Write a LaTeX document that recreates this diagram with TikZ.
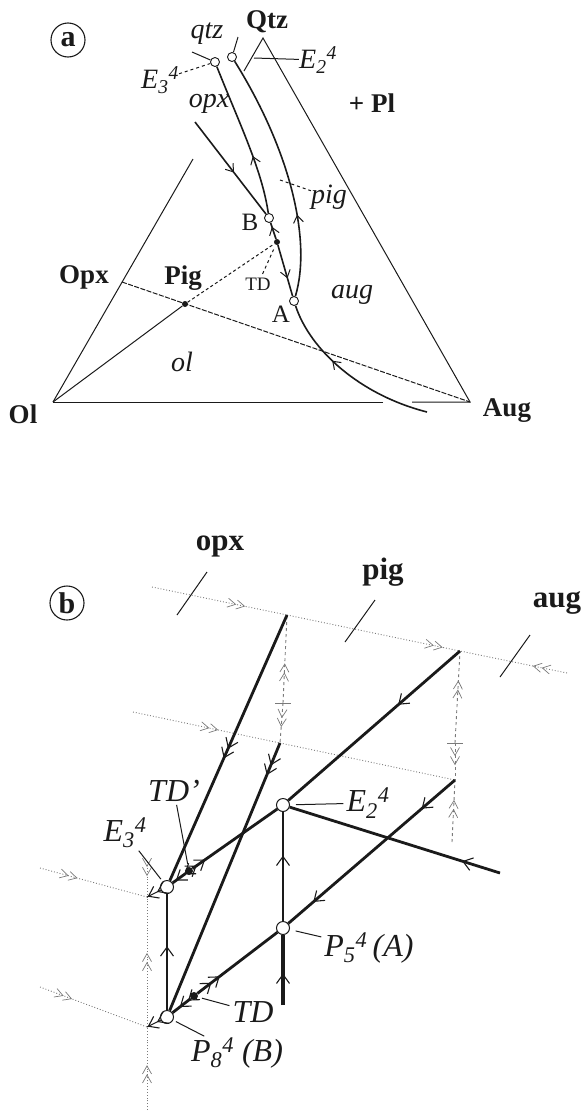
\documentclass[tikz,border=0pt]{standalone}
\usepackage{amsmath}
\usepackage{fontspec}
\setmainfont{Liberation Serif}
\usetikzlibrary{arrows.meta, decorations.markings}
\definecolor{tinta}{HTML}{1A1A1A}
\definecolor{guiaGris}{HTML}{7A7A7A}

\begin{document}
\begin{tikzpicture}[x=1pt, y=1pt, tinta,
    fino/.style={line width=1pt},
    curva/.style={line width=1.6pt},
    medio/.style={line width=1.8pt},
    grueso/.style={line width=2.8pt},
    muygrueso/.style={line width=4pt},
    guia/.style={guiaGris, line width=0.9pt, dotted},
    punto/.style={circle, draw, fill=white, inner sep=0pt, minimum size=9pt, line width=0.9pt},
    puntob/.style={circle, draw, fill=white, inner sep=0pt, minimum size=13pt, line width=1pt},
    lleno/.style={circle, fill, inner sep=0pt, minimum size=6pt},
    llenob/.style={circle, fill, inner sep=0pt, minimum size=8pt},
    fl/.style={postaction={decorate, decoration={markings, mark=at position #1 with
      {\arrow{Straight Barb[length=7pt, width=10pt, line width=1pt]}}}}},
    flb/.style={postaction={decorate, decoration={markings, mark=at position #1 with
      {\arrow{Straight Barb[length=9pt, width=13pt, line width=1.1pt]}}}}},
    fld/.style={postaction={decorate, decoration={markings, mark=at position #1 with
      {\arrow{Straight Barb[length=9pt, width=13pt, line width=1.1pt] Straight Barb[length=9pt, width=13pt, line width=1.1pt]}}}}},
    fg/.style={postaction={decorate, decoration={markings, mark=at position #1 with
      {\arrow{Straight Barb[length=8pt, width=9pt, line width=0.7pt] Straight Barb[length=8pt, width=9pt, line width=0.7pt]}}}}},
    negra/.style={font=\bfseries\fontsize{27}{29}\selectfont, inner sep=0pt},
    curs/.style={font=\itshape\fontsize{28}{30}\selectfont, inner sep=0pt},
    recto/.style={font=\fontsize{25}{27}\selectfont, inner sep=0pt},
    negrab/.style={font=\bfseries\fontsize{31}{33}\selectfont, inner sep=0pt},
    cursb/.style={font=\itshape\fontsize{32}{34}\selectfont, inner sep=0pt},
    circulo/.style={circle, draw, line width=1.1pt, inner sep=0pt, minimum size=34pt,
      font=\bfseries\fontsize{30}{32}\selectfont}]
    \useasboundingbox (0,0) rectangle (582,-1111);

    % ===== (a) =====
    \node[circulo] (etqa) at (68,-40) {a};

    % triángulo
    \coordinate (Ol) at (53,-402);
    \coordinate (Aug) at (470,-402);
    \coordinate (Qtz) at (263,-38);
    \coordinate (Opx) at (122,-282);
    \coordinate (lado1) at (193,-159);
    \coordinate (lado2) at (244,-71);
    \coordinate (base1) at (383,-402);
    \coordinate (base2) at (412,-402);
    \draw[fino] (Ol) -- (lado1);
    \draw[fino] (lado2) -- (Qtz) -- (Aug) -- (base2);
    \draw[fino] (base1) -- (Ol);

    % puntos
    \node[lleno] (Pig) at (185,-304) {};
    \node[lleno] (TDa) at (277,-242) {};
    \node[punto] (E3a) at (215,-62) {};
    \node[punto] (E2a) at (232,-57) {};
    \node[punto] (B) at (269,-218) {};
    \node[punto] (A) at (294,-301) {};

    % uniones
    \draw[fino, dash pattern=on 5pt off 1.5pt] (Opx) -- (Aug);
    \draw[fino] (Ol) -- (Pig);
    \draw[fino, dash pattern=on 3pt off 2.5pt] (Pig) -- (TDa);

    % curvas cotécticas
    \coordinate (finA) at (427,-412);
    \coordinate (opxA) at (195,-122);
    \draw[curva, fl=0.38] (B) .. controls (262,-170) and (240,-125) .. (E3a);
    \draw[curva, fl=0.75] (TDa) -- (B);
    \draw[curva, fl=0.65] (TDa) -- (A);
    \draw[curva, fl=0.62] (finA) .. controls (360,-395) and (310,-350) .. (A);
    \draw[curva, fl=0.33] (A) .. controls (312,-240) and (290,-150) .. (E2a);
    \draw[curva, fl=0.55] (opxA) -- (B);

    % rótulos
    \node[negra] (lQtz) at (267,-22) {Qtz};
    \node[curs] (lqtz) at (207,-34) {qtz};
    \node[curs] (lE3a) at (160,-80) {\textit{E}${}_{\textit{3}}{}^{\textit{4}}$};
    \node[curs] (lE2a) at (318,-60) {\textit{E}${}_{\textit{2}}{}^{\textit{4}}$};
    \node[curs] (lopx) at (209,-104) {opx};
    \node[negra] (lPl) at (372,-103) {+ Pl};
    \node[curs] (lpiga) at (329,-197) {pig};
    \node[recto] (lB) at (250,-222) {B};
    \node[recto] (lA) at (281,-314) {A};
    \node[font=\fontsize{19}{21}\selectfont, inner sep=0pt] (lTDa) at (258,-284) {TD};
    \node[negra] (lOpx) at (84,-277) {Opx};
    \node[negra] (lPig) at (183,-278) {Pig};
    \node[curs] (lol) at (182,-362) {ol};
    \node[negra] (lOl) at (23,-414) {Ol};
    \node[curs] (laug) at (352,-295) {aug};
    \node[negra] (lAug) at (507,-411) {Aug};

    % guías
    \coordinate (qtzA) at (192,-52);
    \coordinate (qtzB) at (238,-37);
    \coordinate (e2lead) at (254,-58);
    \coordinate (pigA1) at (280,-180);
    \draw[fino] (E3a) -- (qtzA);
    \draw[fino] (E2a) -- (qtzB);
    \draw[fino, dashed] (lE3a) -- (E3a);
    \draw[fino] (lE2a) -- (e2lead);
    \draw[fino, dashed] (pigA1) -- (lpiga);
    \draw[fino, dashed, shorten <=4pt, shorten >=5pt] (lTDa) -- (TDa);

    % ===== (b) =====
    \node[circulo] (etqb) at (67,-603) {b};

    % líneas punteadas
    \coordinate (T0) at (152,-587);
    \coordinate (O1) at (287,-615);
    \coordinate (G1) at (460,-651);
    \coordinate (T1) at (567,-673);
    \coordinate (M0) at (133,-712);
    \coordinate (O2) at (280,-743);
    \coordinate (G2) at (455,-780);
    \coordinate (L1) at (40,-868);
    \coordinate (L2) at (40,-987);
    \coordinate (Q1) at (147,-897);
    \coordinate (Q2) at (147,-1027);
    \coordinate (vtop) at (147,-862);
    \coordinate (vbot) at (147,-1110);
    \coordinate (gbot) at (452,-842);
    \coordinate (tickO) at (283,-703);
    \coordinate (tickG) at (455,-743);
    \draw[guia, fg=0.69] (T0) -- (O1);
    \draw[guia, fg=0.9] (O1) -- (G1);
    \draw[guia, fg=0.32] (T1) -- (G1);
    \draw[guia, fg=0.58] (M0) -- (O2);
    \draw[guia] (O2) -- (G2);
    \draw[guia, fg=0.35] (L1) -- (Q1);
    \draw[guia, fg=0.3] (L2) -- (Q2);
    \draw[guia, fg=0.4] (vtop) -- (Q1);
    \draw[guia, fg=0.57] (Q2) -- (Q1);
    \draw[guia, fg=0.54] (vbot) -- (Q2);
    \draw[guia, dashed, fg=0.45] (tickO) -- (O1);
    \draw[guia, dashed, fg=0.6] (tickO) -- (O2);
    \draw[guia, dashed, fg=0.68] (tickG) -- (G1);
    \draw[guia, dashed, fg=0.6] (tickG) -- (G2);
    \draw[guia, dashed, fg=0.68] (gbot) -- (G2);
    \draw[guiaGris, line width=0.9pt] (tickO) ++(-8,0) -- ++(16,0);
    \draw[guiaGris, line width=0.9pt] (tickG) ++(-8,0) -- ++(16,0);

    % marcas de campo
    \coordinate (tk1a) at (207,-572);
    \coordinate (tk1b) at (177,-615);
    \coordinate (tk2a) at (375,-600);
    \coordinate (tk2b) at (345,-642);
    \coordinate (tk3a) at (530,-635);
    \coordinate (tk3b) at (500,-677);
    \draw[fino] (tk1a) -- (tk1b);
    \draw[fino] (tk2a) -- (tk2b);
    \draw[fino] (tk3a) -- (tk3b);

    % puntos invariantes
    \node[puntob] (E3b) at (167,-887) {};
    \node[puntob] (P8) at (167,-1017) {};
    \node[puntob] (E2b) at (283,-805) {};
    \node[puntob] (P5) at (283,-928) {};
    \node[llenob] (TDp) at (189,-871) {};
    \node[llenob] (TDb) at (194,-996) {};
    \coordinate (pieP5) at (283,-1005);
    \coordinate (finE2) at (500,-873);

    % líneas univariantes
    \draw[grueso, fld=0.54] (O1) -- (E3b);
    \draw[grueso, fld=0.12] (O2) -- (P8);
    \draw[grueso, flb=0.36] (G1) -- (E2b);
    \draw[grueso, fld=0.15] (TDp) -- (E2b);
    \draw[grueso, fld=0.75] (TDp) -- (E3b);
    \draw[grueso, flb=0.2, flb=0.85] (G2) -- (P5);
    \draw[grueso, flb=0.18] (finE2) -- (E2b);
    \draw[grueso, fld=0.28] (TDb) -- (P5);
    \draw[grueso, fld=0.6] (TDb) -- (P8);
    \draw[medio, flb=0.6] (P5) -- (E2b);
    \draw[muygrueso, flb=0.45] (pieP5) -- (P5);
    \draw[medio, flb=0.55] (P8) -- (E3b);
    \draw[fino, fld=0.95] (E3b) -- (Q1);
    \draw[fino, fld=0.95] (P8) -- (Q2);

    % rótulos
    \node[negrab] (lopxb) at (220,-546) {opx};
    \node[negrab] (lpigb) at (383,-572) {pig};
    \node[negrab] (laugb) at (557,-603) {aug};
    \node[cursb] (lTDp) at (174,-791) {TD'};
    \node[cursb] (lE3b) at (125,-833) {\textit{E}${}_{\textit{3}}{}^{\textit{4}}$};
    \node[cursb] (lE2b) at (368,-803) {\textit{E}${}_{\textit{2}}{}^{\textit{4}}$};
    \node[cursb] (lP5) at (369,-948) {\textit{P}${}_{\textit{5}}{}^{\textit{4}}$\,(\textit{A})};
    \node[cursb] (lTDb) at (253,-1012) {TD};
    \node[cursb] (lP8) at (237,-1053) {\textit{P}${}_{\textit{8}}{}^{\textit{4}}$ (\textit{B})};

    % guías de rótulos
    \draw[fino, shorten <=3pt, shorten >=3pt] (lTDp) -- (TDp);
    \draw[fino, shorten <=3pt, shorten >=3pt] (lE3b) -- (E3b);
    \draw[fino, shorten <=3pt, shorten >=6pt] (lE2b) -- (E2b);
    \draw[fino, shorten <=3pt, shorten >=6pt] (lP5) -- (P5);
    \draw[fino, shorten <=3pt, shorten >=4pt] (lTDb) -- (TDb);
    \draw[fino, shorten <=3pt, shorten >=3pt] (lP8) -- (P8);
  \end{tikzpicture}
\end{document}
